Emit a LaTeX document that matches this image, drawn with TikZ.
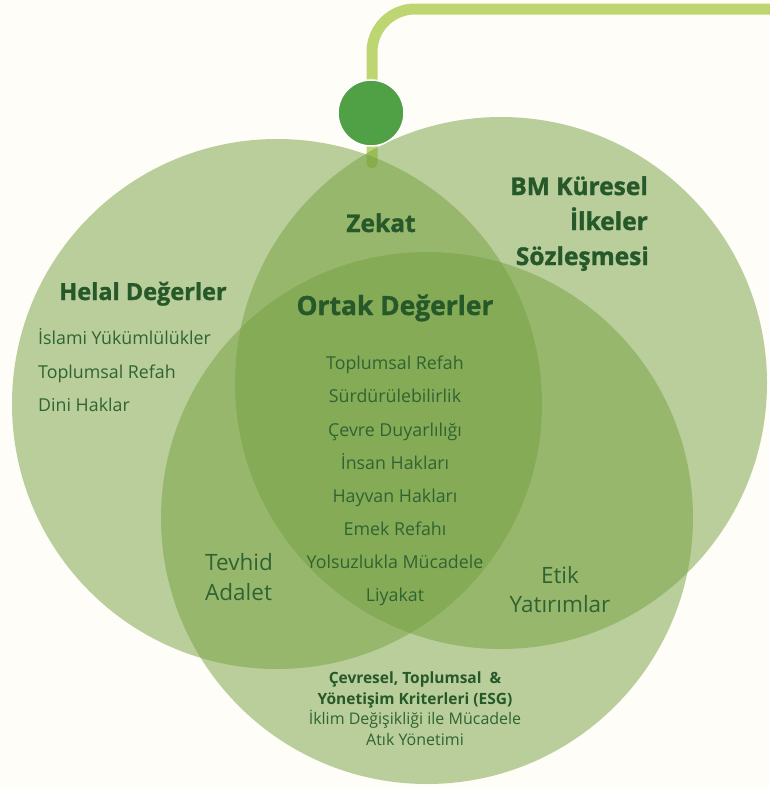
\documentclass[tikz,border=0pt]{standalone}
\usepackage{fontspec}
\setmainfont{Open Sans}
\newfontfamily\headfont{Open Sans}[UprightFont={* Bold}, UprightFeatures={FakeBold=1.3}]
\definecolor{bgc}{HTML}{FEFDF8}
\definecolor{stemc}{RGB}{190,214,114}
\definecolor{dotc}{RGB}{80,160,70}
\definecolor{circc}{RGB}{118,161,64}
\definecolor{headc}{RGB}{38,88,42}
\definecolor{bodyc}{RGB}{47,100,50}
\tikzset{
  venn/.style={circle, fill=circc, fill opacity=0.5, minimum size=530pt, inner sep=0pt, outer sep=0pt},
  head/.style={anchor=base, text=headc, font=\headfont\fontsize{24.5}{28}\selectfont, inner sep=0pt},
  body/.style={anchor=base, text=bodyc, font=\fontsize{17.8}{21}\selectfont, inner sep=0pt},
  side/.style={anchor=base, text=bodyc, font=\fontsize{22.5}{26}\selectfont, inner sep=0pt},
  esgb/.style={anchor=base, text=headc, font=\bfseries\fontsize{15.5}{18}\selectfont, inner sep=0pt},
  esg/.style={anchor=base, text=bodyc, font=\fontsize{16}{19}\selectfont, inner sep=0pt}
}
\begin{document}
\begin{tikzpicture}[x=1pt,y=-1pt]
\fill[bgc] (0,0) rectangle (769,787);
\useasboundingbox (0,0) rectangle (769,787);
% stem
\coordinate (stemend) at (372,163);
\coordinate (bend) at (372,52);
\coordinate (far) at (790,9);
\draw[stemc, line width=11pt, line cap=round] (stemend) -- (bend) arc[start angle=180, end angle=270, radius=43] -- (far);
% circles
\node[venn, minimum size=530pt] (helal) at (277,404) {};
\node[venn, minimum size=532pt] (bm) at (501,383) {};
\node[venn, minimum size=532pt] (esgc) at (427,518) {};
% dot
\node[circle, fill=dotc, draw=white, line width=1.5pt, minimum size=66pt, inner sep=0pt] (dot) at (371,113) {};
% headings
\node[head, font=\headfont\fontsize{23.5}{27}\selectfont] (hhelal) at (143,300) {Helal Değerler};
\node[head] (hzekat) at (381,232) {Zekat};
\node[head, anchor=base east] (hbm1) at (648,195) {BM Küresel};
\node[head, anchor=base east] (hbm2) at (648,230) {İlkeler};
\node[head, anchor=base east] (hbm3) at (649,265) {Sözleşmesi};
\node[head, font=\headfont\fontsize{26.4}{30}\selectfont] (hortak) at (395,315) {Ortak Değerler};
% left list
\node[body, anchor=base west] (l1) at (38,344) {İslami Yükümlülükler};
\node[body, anchor=base west] (l2) at (38,378) {Toplumsal Refah};
\node[body, anchor=base west] (l3) at (38,411) {Dini Haklar};
% centre list
\node[body] (c1) at (395,369) {Toplumsal Refah};
\node[body] (c2) at (395,402) {Sürdürülebilirlik};
\node[body] (c3) at (395,436) {Çevre Duyarlılığı};
\node[body] (c4) at (395,469) {İnsan Hakları};
\node[body] (c5) at (395,502) {Hayvan Hakları};
\node[body] (c6) at (395,535) {Emek Refahı};
\node[body] (c7) at (395,568) {Yolsuzlukla Mücadele};
\node[body] (c8) at (395,601) {Liyakat};
% side texts
\node[side, anchor=base west] (t1) at (205,570) {Tevhid};
\node[side, anchor=base west] (t2) at (205,600) {Adalet};
\node[side] (e1) at (560,583) {Etik};
\node[side] (e2) at (560,612) {Yatırımlar};
% ESG
\node[esgb] (g1) at (415,683) {Çevresel, Toplumsal \ \&};
\node[esgb] (g2) at (415,704) {Yönetişim Kriterleri (ESG)};
\node[esg] (g3) at (415,724) {İklim Değişikliği ile Mücadele};
\node[esg] (g4) at (415,745) {Atık Yönetimi};
\end{tikzpicture}
\end{document}
